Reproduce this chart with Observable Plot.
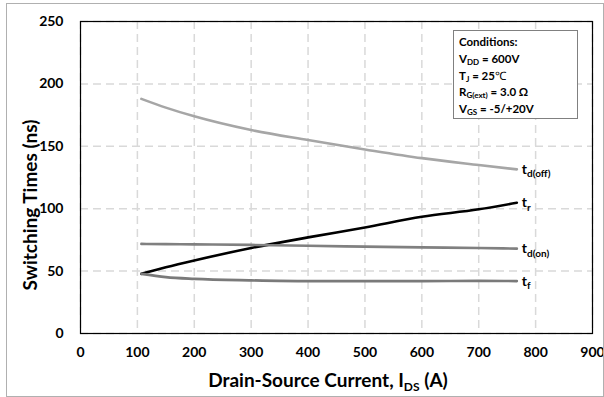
<!DOCTYPE html>
<html><head><meta charset="utf-8">
<script src="https://cdn.jsdelivr.net/npm/d3@7"></script>
<script src="https://cdn.jsdelivr.net/npm/@observablehq/plot@0.6"></script>
<style>
body{margin:0;background:#fff;}
#wrap{position:relative;width:604px;height:397px;overflow:hidden;}
#border{position:absolute;left:6px;top:3px;width:598px;height:394px;border:1px solid #b0b0b0;box-sizing:border-box;pointer-events:none;}
#cond{position:absolute;left:453px;top:30px;width:125px;height:89px;border:1px solid #808080;background:#fff;box-sizing:border-box;font:bold 11.5px Lato, sans-serif;line-height:16.8px;padding:3px 0 0 5px;color:#000;}
#cond sub{font-size:8px;vertical-align:-2px;line-height:0;}
#cond .deg{font-family:"Liberation Serif",serif;font-weight:normal;}
</style></head>
<body>
<div id="wrap">
  <div id="chart"></div>
  <div id="cond">
    <div>Conditions:</div>
    <div>V<sub>DD</sub> = 600V</div>
    <div>T<sub>J</sub> = 25<span class="deg">℃</span></div>
    <div>R<sub>G(ext)</sub> = 3.0 Ω</div>
    <div>V<sub>GS</sub> = -5/+20V</div>
  </div>
  <div id="border"></div>
</div>
<script>
const xTicks = [0,100,200,300,400,500,600,700,800,900];
const yTicks = [0,50,100,150,200,250];
const current = [107,150,200,300,400,500,600,700,767];
const tdOff = [188,181,174,163,155,147.5,140.5,135,131.5];
const tR    = [47.8,53,58.5,68.5,77,85,93.5,99.5,104.8];
const tdOn  = [71.8,71.6,71.4,71,70.3,69.6,69,68.5,68];
const tF    = [47.8,45.2,43.8,42.6,42,42,42,42.2,42];
const seriesNames = ["td(off)","tr","td(on)","tf"];
const seriesSubs  = ["d(off)","r","d(on)","f"];
const seriesColors = ["#a6a6a6","#000000","#808080","#7a7a7a"];
const seriesValues = [tdOff,tR,tdOn,tF];

const rows = [];
seriesValues.forEach((vals,i)=>vals.forEach((v,j)=>rows.push({s:seriesNames[i],x:current[j],y:v})));
const ends = seriesValues.map((vals,i)=>({s:seriesNames[i],sub:seriesSubs[i],x:current[current.length-1],y:vals[vals.length-1]}));

const chart = Plot.plot({
  width:604, height:397,
  marginLeft:80, marginRight:12, marginTop:21, marginBottom:64,
  style:{fontFamily:"Lato, sans-serif", fontSize:"14px", fontWeight:"bold", color:"#000", background:"transparent"},
  x:{domain:[0,900], label:null},
  y:{domain:[0,250], label:null},
  color:{domain:seriesNames, range:seriesColors},
  marks:[
    Plot.gridX(xTicks,{stroke:"#d9d9d9", strokeOpacity:1, strokeWidth:1.5, strokeDasharray:"8,5"}),
    Plot.gridY(yTicks,{stroke:"#d9d9d9", strokeOpacity:1, strokeWidth:1.5, strokeDasharray:"8,5"}),
    Plot.axisX(xTicks,{tickSize:0, tickPadding:14, label:null, tickFormat:d=>String(d)}),
    Plot.axisY(yTicks,{tickSize:0, tickPadding:17, label:null, tickFormat:d=>String(d)}),
    Plot.frame({stroke:"#000", strokeWidth:1.2}),
    Plot.line(rows,{x:"x", y:"y", z:"s", stroke:"s", strokeWidth:2.6, curve:"monotone-x"}),
    Plot.text(ends,{x:"x", y:"y", text:d=>"t_"+d.sub, dx:5, textAnchor:"start", fontSize:14, fontWeight:"bold"})
  ]
});
document.getElementById("chart").appendChild(chart);

const svg = d3.select(chart);
// subscripts on line labels
svg.selectAll('g[aria-label="text"] text').each(function(){
  const t = this.textContent; const [b,s] = t.split("_");
  const el = d3.select(this); el.text(null);
  el.append("tspan").text(b);
  el.append("tspan").attr("dy","0.35em").attr("font-size","10px").text(s);
});
// axis titles
svg.append("text")
  .attr("transform","translate(30,205) rotate(-90)")
  .attr("text-anchor","middle").attr("dy","0.35em")
  .attr("font-size","19px").attr("font-weight","bold").attr("fill","#000")
  .text("Switching Times (ns)");
const xt = svg.append("text")
  .attr("x",328).attr("y",380)
  .attr("text-anchor","middle").attr("dy","0.35em")
  .attr("font-size","19px").attr("font-weight","bold").attr("fill","#000");
xt.append("tspan").text("Drain-Source Current, I");
xt.append("tspan").attr("dy","4").attr("font-size","12px").text("DS");
xt.append("tspan").attr("dy","-4").text(" (A)");
</script>
</body></html>
